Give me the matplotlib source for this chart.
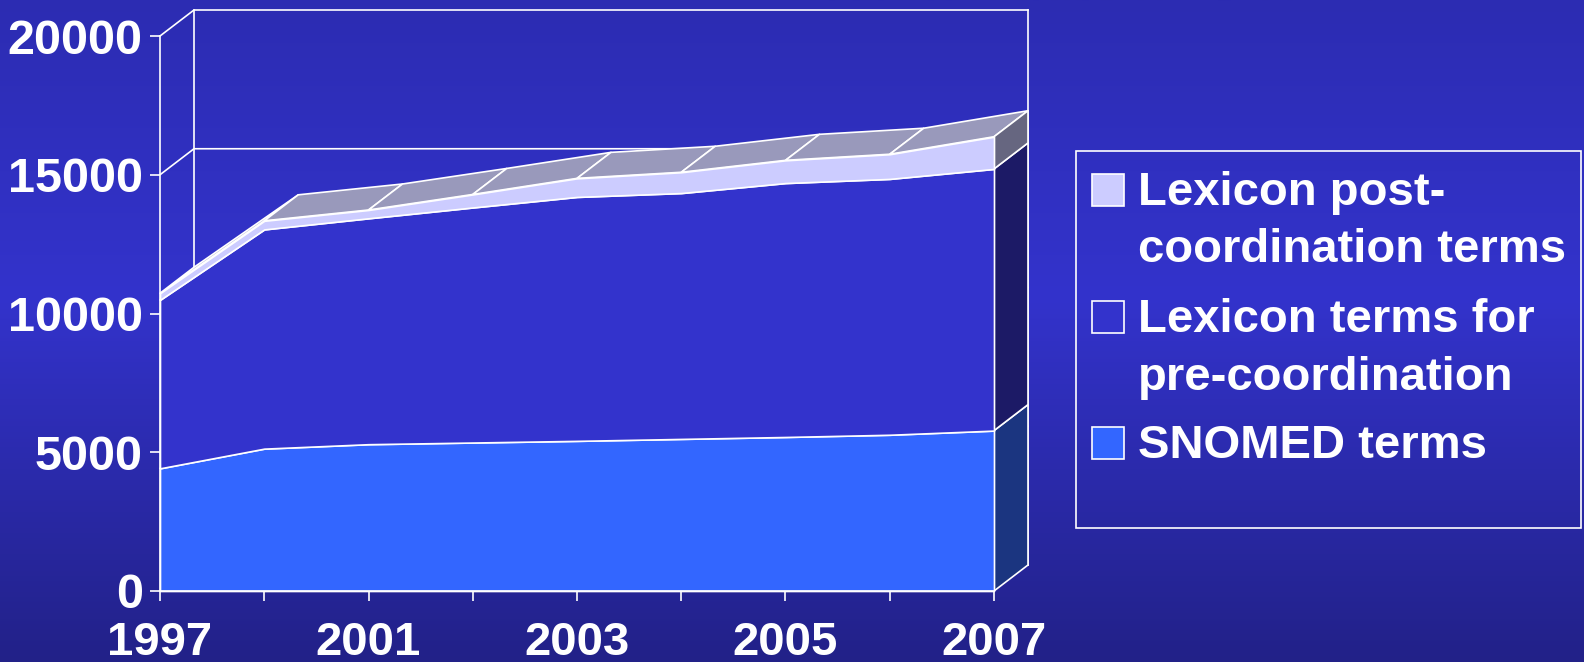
import numpy as np
import matplotlib
matplotlib.use("Agg")
import matplotlib.pyplot as plt
from matplotlib.patches import Polygon, Rectangle

# ---------------- data ----------------
years = ["1997", "2000", "2001", "2002", "2003", "2004", "2005", "2006", "2007"]
snomed = [4420, 5130, 5290, 5350, 5410, 5480, 5550, 5630, 5780]
pre_coord = [6070, 7900, 8140, 8470, 8790, 8860, 9150, 9220, 9430]
post_coord = [240, 310, 300, 470, 670, 750, 820, 890, 1160]
series_names = ["SNOMED terms",
                "Lexicon terms for\npre-coordination",
                "Lexicon post-\ncoordination terms"]
y_ticks = [0, 5000, 10000, 15000, 20000]

# ---------------- style ----------------
W, H, DPI = 1584, 662, 100
FONT = "Liberation Sans"
front_colors = ["#3366ff", "#3333cc", "#ccccff"]
side_colors = ["#1b3580", "#1c1a66", "#666680"]
top_colors = ["#2a4db0", "#28289e", "#9999bb"]
LW = 1.2

fig = plt.figure(figsize=(W / DPI, H / DPI), dpi=DPI)

def fx(px):
    return px / W

def fy(py):
    return 1 - py / H

# background gradient
bg = fig.add_axes([0, 0, 1, 1], zorder=-10)
stops = np.array([0.0, 0.45, 1.0])
cols = np.array([[0x2c, 0x2c, 0xb2], [0x33, 0x33, 0xcc], [0x22, 0x21, 0x88]]) / 255
t = np.linspace(0, 1, 400)
grad = np.stack([np.interp(t, stops, cols[:, c]) for c in range(3)], axis=1)
bg.imshow(grad[:, None, :], aspect="auto", extent=[0, 1, 0, 1], origin="upper")
bg.set_axis_off()

# main axes (front plane)
L, R, T, B = 160, 994, 36, 591
ax = fig.add_axes([fx(L), fy(B), (R - L) / W, (B - T) / H])
n = len(years)
xmax = n - 1
ax.set_xlim(0, xmax)
ax.set_ylim(0, y_ticks[-1])
ax.patch.set_visible(False)

# depth offset: 34 px right, 26 px up, expressed in data units
DX = 34 * xmax / (R - L)
DY = 26 * y_ticks[-1] / (B - T)

# back walls and gridlines
wall = dict(color="white", lw=LW, zorder=1, clip_on=False)
for v in y_ticks[1:]:
    ax.plot([0, DX, xmax + DX], [v, v + DY, v + DY], **wall)
ax.plot([DX, DX], [DY, y_ticks[-1] + DY], **wall)
ax.plot([xmax + DX, xmax + DX], [DY, y_ticks[-1] + DY], **wall)
ax.plot([0, DX, xmax + DX], [0, DY, DY], **wall)

# stacked layers
x = np.arange(n)
layers = [np.array(snomed, float), np.array(pre_coord, float), np.array(post_coord, float)]
bots, tops = [], []
acc = np.zeros(n)
for vals in layers:
    bots.append(acc.copy())
    acc = acc + vals
    tops.append(acc.copy())

# top surfaces
for k in range(3):
    tp = tops[k]
    for i in range(n - 1):
        poly = Polygon([[x[i], tp[i]], [x[i + 1], tp[i + 1]],
                        [x[i + 1] + DX, tp[i + 1] + DY], [x[i] + DX, tp[i] + DY]],
                       closed=True, fc=top_colors[k], ec="white", lw=LW,
                       zorder=2 + 0.01 * k, clip_on=False, joinstyle="round")
        ax.add_patch(poly)

# right side faces
for k in range(3):
    bt, tp = bots[k][-1], tops[k][-1]
    poly = Polygon([[xmax, bt], [xmax, tp], [xmax + DX, tp + DY], [xmax + DX, bt + DY]],
                   closed=True, fc=side_colors[k], ec="white", lw=LW,
                   zorder=2.5, clip_on=False, joinstyle="round")
    ax.add_patch(poly)

# front faces
for k in range(3):
    ax.fill_between(x, bots[k], tops[k], facecolor=front_colors[k],
                    edgecolor="white", lw=LW, zorder=3, clip_on=False)

# spines / ticks
for s in ["top", "right"]:
    ax.spines[s].set_visible(False)
for s in ["left", "bottom"]:
    ax.spines[s].set_color("white")
    ax.spines[s].set_linewidth(LW)
    ax.spines[s].set_zorder(5)

ax.set_xticks(x)
ax.set_xticklabels([yr if i % 2 == 0 else "" for i, yr in enumerate(years)])
ax.set_yticks(y_ticks)
ax.set_yticklabels([str(v) for v in y_ticks])
ax.tick_params(colors="white", direction="out", length=7.5, width=LW)
ax.tick_params(axis="x", pad=14, labelsize=34)
ax.tick_params(axis="y", pad=5, labelsize=35)
for lab in ax.get_xticklabels() + ax.get_yticklabels():
    lab.set_fontweight("bold")
    lab.set_family(FONT)

# legend (drawn manually)
fig.add_artist(Rectangle((fx(1076), fy(528)), (1581 - 1076) / W, (528 - 151) / H,
                         transform=fig.transFigure, fill=False, ec="white", lw=LW))
legend_order = [2, 1, 0]
patch_tops = [174, 301, 427]
for j, k in enumerate(legend_order):
    ptop = patch_tops[j]
    fig.add_artist(Rectangle((fx(1092), fy(ptop + 32)), 32 / W, 32 / H,
                             transform=fig.transFigure, fc=front_colors[k],
                             ec="white", lw=LW))
    base = ptop + 31.5
    for li, line in enumerate(series_names[k].split("\n")):
        fig.text(fx(1138), fy(base + li * 57), line, ha="left", va="baseline",
                 fontsize=34, fontweight="bold", family=FONT, color="white")

fig.savefig("out.png", dpi=DPI)
